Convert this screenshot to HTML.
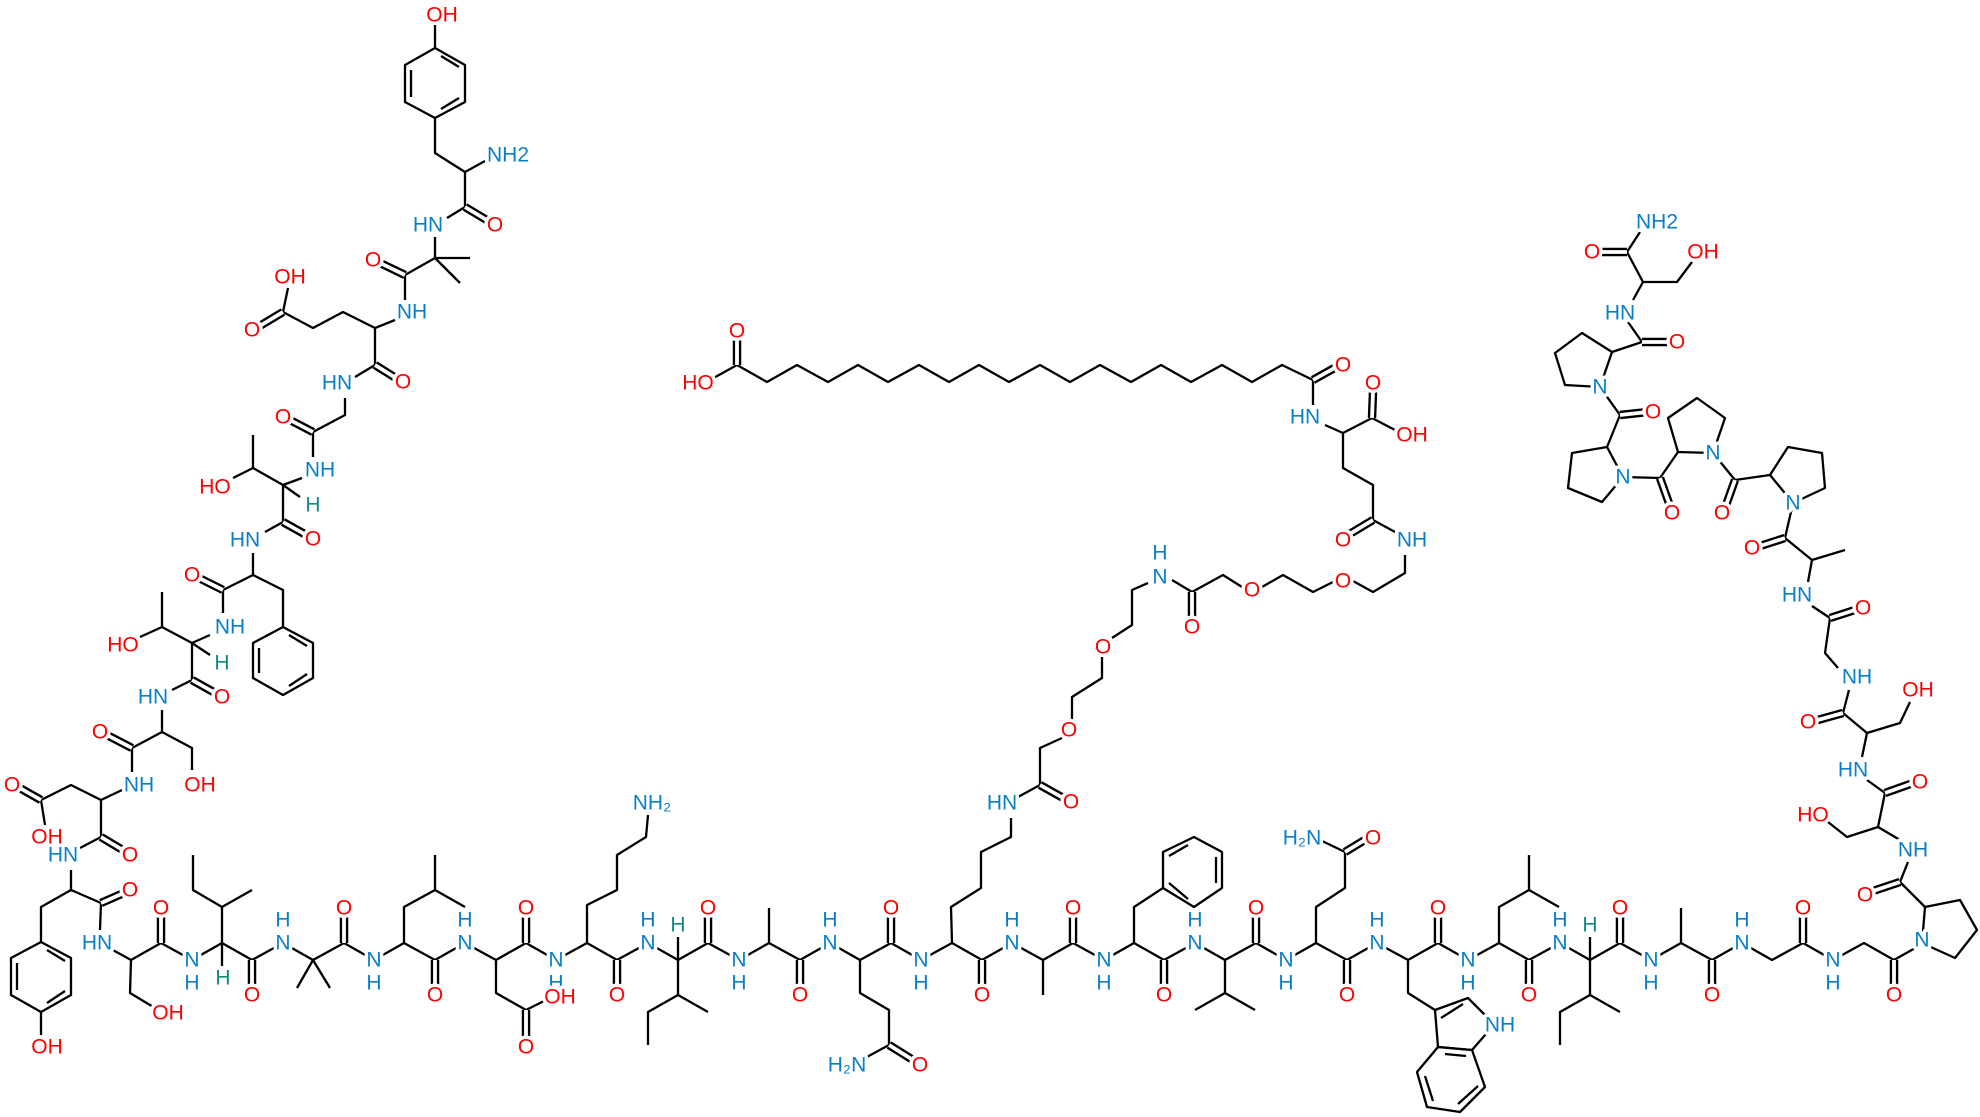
<!DOCTYPE html>
<html><head><meta charset="utf-8"><style>
html,body{margin:0;padding:0;background:#fff;}
svg{display:block;}
text{font-family:"Liberation Sans",sans-serif;font-size:21px;dominant-baseline:central;text-anchor:middle;stroke:#fff;stroke-width:7px;paint-order:stroke;stroke-linejoin:round;}
.o{fill:#f00;} .n{fill:#0a7fc8;} .h{fill:#138a80;}
</style></head><body>
<svg width="1980" height="1117" viewBox="0 0 1980 1117" xmlns="http://www.w3.org/2000/svg">
<g fill="none" stroke="#000" stroke-width="2.3" stroke-linejoin="round">
<path d="M100,943 L131,960 L161,943 L192,960 L222,943 L252,960 L283,943 L313,960 L344,943 L374,960 L404,943 L435,960 L465,943 L496,960 L526,943 L556,960 L587,943 L617,960 L648,943 L678,960 L708,943 L739,960 L769,943 L800,960 L830,943 L860,960 L891,943 L921,960 L952,943 L982,960 L1012,943 L1043,960 L1073,943 L1104,960 L1134,943 L1164,960 L1195,943 L1225,960 L1256,943 L1286,960 L1316,943 L1347,960 L1377,943 L1408,960 L1438,943 L1468,960 L1499,943 L1529,960 L1560,943 L1590,960 L1620,943 L1651,960 L1681,943 L1712,960 L1742,943 L1772,960 L1803,943 L1833,960 L1864,943 L1894,960 L1924,943"/>
<polygon points="435,48 465,65 465,102 435,118 405,102 405,65"/>
<path d="M441,56 L459,67 M459,98 L441,109 M411,70 L411,97"/>
<path d="M435,48 L435,25 M435,118 L435,153 L465,172 L485,161 M465,172 L465,207 L447,218 M435,237 L435,258 L470,258 M435,258 L460,283 M435,258 L405,275 L405,300 M395,320 L375,328 L343,312 L313,328 L283,312 L288,288 M375,328 L375,365 L355,377 M345,398 L345,415 L313,432 L313,457 M302,478 L283,485 L300,497 M283,485 L253,468 L253,435 M253,468 L233,478 M283,485 L283,522 L265,532 M253,553 L253,575 L283,590 L283,627 M253,575 L223,590 L223,613 M210,635 L192,643 L210,655 M192,643 L162,627 L162,592 M162,627 L140,637 M192,643 L192,680 L172,690 M162,710 L162,732 L192,748 L192,770 M162,732 L132,748 L132,772 M122,790 L101,800 L71,785 L41,800 L45,825 M101,800 L101,837 L80,848 M71,870 L71,890 L41,907 L41,942 M71,890 L101,903 L100,930"/>
<polygon points="283,627 313,643 313,678 283,695 253,678 253,643"/>
<path d="M289,635 L307,646 M307,674 L289,686 M259,648 L259,673"/>
<polygon points="41,942 71,958 71,995 41,1012 11,995 11,958"/>
<path d="M47,950 L65,961 M65,991 L47,1003 M17,963 L17,990 M41,1012 L41,1035"/>
<path d="M131,960 L130,993 L155,1008"/>
<path d="M222,943 L222,907 L252,890 M222,907 L193,890 L193,855 M222,943 L222,966"/>
<path d="M313,960 L297,988 M313,960 L330,988"/>
<path d="M404,943 L404,907 L435,890 L435,855 M435,890 L465,907"/>
<path d="M496,960 L496,993 L526,1010 L550,998"/>
<path d="M587,943 L587,905 L617,890 L617,855 L646,837 L648,815"/>
<path d="M678,960 L678,995 L708,1012 M678,995 L648,1012 L648,1045 M678,960 L678,937"/>
<path d="M769,943 L769,908"/>
<path d="M860,960 L860,993 L889,1010 L889,1045 L865,1058"/>
<path d="M1043,960 L1043,995"/>
<path d="M1134,943 L1134,907 L1163,888"/>
<polygon points="1163,888 1163,852 1194,837 1222,852 1222,888 1194,907"/>
<path d="M1169,856 L1188,845 M1216,857 L1216,883 M1188,899 L1169,883"/>
<path d="M1225,960 L1225,993 L1195,1010 M1225,993 L1255,1010"/>
<path d="M1316,943 L1316,907 L1345,888 L1345,852 L1320,840"/>
<path d="M1408,960 L1408,993 L1435,1010"/>
<path d="M1435,1010 L1468,998 L1488,1018 M1486,1034 L1472,1050 L1438,1047 L1435,1010 M1441,1018 L1463,1004"/>
<polygon points="1438,1047 1417,1072 1427,1107 1460,1112 1485,1087 1472,1050"/>
<path d="M1425,1076 L1433,1101 M1458,1104 L1478,1086 M1445,1054 L1466,1056"/>
<path d="M1499,943 L1499,907 L1529,890 L1529,855 M1529,890 L1559,907"/>
<path d="M1590,960 L1590,995 L1620,1012 M1590,995 L1560,1012 L1560,1045 M1590,960 L1590,937"/>
<path d="M1681,943 L1681,908"/>
<path d="M710,380 L737,365 L767,382 L797,365 L828,382 L858,365 L888,382 L919,365 L949,382 L979,365 L1009,382 L1040,365 L1070,382 L1100,365 L1131,382 L1161,365 L1191,382 L1222,365 L1252,382 L1282,365 L1313,380"/>
<path d="M1313,380 L1313,405 M1325,425 L1343,433 L1372,418 L1395,430 M1343,433 L1343,468 L1373,485 L1373,520 L1395,532 M1405,555 L1405,573 L1373,592 L1353,581 M1333,582 L1313,592 L1283,575 L1262,587 M1242,587 L1223,575 L1192,592 L1172,580 M1148,583 L1132,590 L1132,625 L1112,638 M1102,657 L1102,678 L1072,697 L1072,720 M1062,738 L1040,748 L1040,785 L1018,797 M1011,818 L1011,837 L981,852 L981,888 L951,907 L952,943"/>
<polygon points="1922,943 1925,907 1960,900 1977,930 1955,958"/>
<path d="M1925,907 L1900,882 L1908,862 M1900,840 L1878,827 L1847,837 L1828,822 M1878,827 L1885,793 L1867,780 M1862,757 L1867,733 L1900,723 L1910,702 M1867,733 L1843,713 L1849,690 M1838,668 L1825,653 L1830,618 L1812,606 M1808,582 L1812,560 L1845,550 M1812,560 L1785,538 L1793,503"/>
<polygon points="1793,503 1770,475 1788,447 1822,453 1825,488"/>
<path d="M1770,475 L1735,480 L1713,453"/>
<polygon points="1713,453 1678,452 1668,418 1697,398 1725,418"/>
<path d="M1678,452 L1660,478 L1623,477"/>
<polygon points="1623,477 1607,447 1572,453 1568,488 1602,502"/>
<path d="M1607,447 L1620,415 L1600,387"/>
<polygon points="1600,387 1612,352 1582,333 1555,353 1565,385"/>
<path d="M1612,352 L1642,342 L1628,322 M1633,300 L1643,282 L1677,282 L1692,262 M1643,282 L1627,252 L1640,232"/>
</g>
<g fill="none" stroke-linecap="butt">
<path stroke="#000" stroke-width="8.5" d="M161,943 L161,910 M252,960 L252,993 M344,943 L344,910 M435,960 L435,993 M526,943 L526,910 M617,960 L617,993 M708,943 L708,910 M800,960 L800,993 M891,943 L891,910 M982,960 L982,993 M1073,943 L1073,910 M1164,960 L1164,993 M1256,943 L1256,910 M1347,960 L1347,993 M1438,943 L1438,910 M1529,960 L1529,993 M1620,943 L1620,910 M1712,960 L1712,993 M1803,943 L1803,910 M1894,960 L1894,993 M465,207 L490,222 M405,275 L378,262 M283,312 L258,327 M375,365 L399,380 M313,432 L288,419 M283,522 L308,536 M223,590 L197,577 M192,680 L217,694 M132,748 L105,734 M41,800 L18,787 M101,837 L126,852 M101,903 L126,892 M526,1010 L526,1040 M889,1045 L913,1060 M1345,852 L1368,838 M1040,785 L1065,799 M737,365 L737,340 M1313,380 L1338,366 M1372,418 L1373,392 M1373,520 L1348,535 M1192,592 L1192,620 M1900,882 L1870,892 M1885,793 L1913,783 M1843,713 L1814,721 M1830,618 L1858,609 M1785,538 L1757,547 M1735,480 L1725,508 M1660,478 L1670,506 M1620,415 L1648,412 M1642,342 L1670,342 M1627,252 L1600,252"/>
<path stroke="#fff" stroke-width="3.8" d="M161,943 L161,910 M252,960 L252,993 M344,943 L344,910 M435,960 L435,993 M526,943 L526,910 M617,960 L617,993 M708,943 L708,910 M800,960 L800,993 M891,943 L891,910 M982,960 L982,993 M1073,943 L1073,910 M1164,960 L1164,993 M1256,943 L1256,910 M1347,960 L1347,993 M1438,943 L1438,910 M1529,960 L1529,993 M1620,943 L1620,910 M1712,960 L1712,993 M1803,943 L1803,910 M1894,960 L1894,993 M465,207 L490,222 M405,275 L378,262 M283,312 L258,327 M375,365 L399,380 M313,432 L288,419 M283,522 L308,536 M223,590 L197,577 M192,680 L217,694 M132,748 L105,734 M41,800 L18,787 M101,837 L126,852 M101,903 L126,892 M526,1010 L526,1040 M889,1045 L913,1060 M1345,852 L1368,838 M1040,785 L1065,799 M737,365 L737,340 M1313,380 L1338,366 M1372,418 L1373,392 M1373,520 L1348,535 M1192,592 L1192,620 M1900,882 L1870,892 M1885,793 L1913,783 M1843,713 L1814,721 M1830,618 L1858,609 M1785,538 L1757,547 M1735,480 L1725,508 M1660,478 L1670,506 M1620,415 L1648,412 M1642,342 L1670,342 M1627,252 L1600,252"/>
</g>
<text class="o" x="161" y="908">O</text><text class="o" x="252" y="995">O</text><text class="o" x="344" y="908">O</text><text class="o" x="435" y="995">O</text><text class="o" x="526" y="908">O</text><text class="o" x="617" y="995">O</text><text class="o" x="708" y="908">O</text><text class="o" x="800" y="995">O</text><text class="o" x="891" y="908">O</text><text class="o" x="982" y="995">O</text><text class="o" x="1073" y="908">O</text><text class="o" x="1164" y="995">O</text><text class="o" x="1256" y="908">O</text><text class="o" x="1347" y="995">O</text><text class="o" x="1438" y="908">O</text><text class="o" x="1529" y="995">O</text><text class="o" x="1620" y="908">O</text><text class="o" x="1712" y="995">O</text><text class="o" x="1803" y="908">O</text><text class="o" x="1894" y="995">O</text>
<text class="n" x="97" y="943">HN</text>
<text class="n" x="192" y="960">N</text><text class="n" x="192" y="983">H</text>
<text class="n" x="283" y="943">N</text><text class="n" x="283" y="920">H</text>
<text class="n" x="374" y="960">N</text><text class="n" x="374" y="983">H</text>
<text class="n" x="465" y="943">N</text><text class="n" x="465" y="920">H</text>
<text class="n" x="556" y="960">N</text><text class="n" x="556" y="983">H</text>
<text class="n" x="648" y="943">N</text><text class="n" x="648" y="920">H</text>
<text class="n" x="739" y="960">N</text><text class="n" x="739" y="983">H</text>
<text class="n" x="830" y="943">N</text><text class="n" x="830" y="920">H</text>
<text class="n" x="921" y="960">N</text><text class="n" x="921" y="983">H</text>
<text class="n" x="1012" y="943">N</text><text class="n" x="1012" y="920">H</text>
<text class="n" x="1104" y="960">N</text><text class="n" x="1104" y="983">H</text>
<text class="n" x="1195" y="943">N</text><text class="n" x="1195" y="920">H</text>
<text class="n" x="1286" y="960">N</text><text class="n" x="1286" y="983">H</text>
<text class="n" x="1377" y="943">N</text><text class="n" x="1377" y="920">H</text>
<text class="n" x="1468" y="960">N</text><text class="n" x="1468" y="983">H</text>
<text class="n" x="1560" y="943">N</text><text class="n" x="1560" y="920">H</text>
<text class="n" x="1651" y="960">N</text><text class="n" x="1651" y="983">H</text>
<text class="n" x="1742" y="943">N</text><text class="n" x="1742" y="920">H</text>
<text class="n" x="1833" y="960">N</text><text class="n" x="1833" y="983">H</text>
<text class="n" x="1922" y="940">N</text>
<text class="o" x="442" y="15">OH</text>
<text class="n" x="508" y="155">NH2</text>
<text class="o" x="495" y="225">O</text><text class="n" x="428" y="225">HN</text>
<text class="o" x="373" y="260">O</text><text class="n" x="412" y="312">NH</text>
<text class="o" x="290" y="277">OH</text><text class="o" x="252" y="330">O</text>
<text class="o" x="403" y="382">O</text><text class="n" x="337" y="383">HN</text>
<text class="o" x="283" y="417">O</text><text class="n" x="320" y="470">NH</text>
<text class="h" x="313" y="505">H</text><text class="o" x="215" y="487">HO</text>
<text class="o" x="313" y="539">O</text><text class="n" x="245" y="540">HN</text>
<text class="o" x="192" y="575">O</text><text class="n" x="230" y="627">NH</text>
<text class="o" x="123" y="645">HO</text><text class="h" x="222" y="663">H</text>
<text class="o" x="222" y="697">O</text><text class="n" x="153" y="697">HN</text>
<text class="o" x="100" y="732">O</text><text class="o" x="200" y="785">OH</text>
<text class="n" x="139" y="785">NH</text><text class="o" x="12" y="785">O</text>
<text class="o" x="47" y="837">OH</text><text class="n" x="63" y="855">HN</text>
<text class="o" x="130" y="855">O</text><text class="o" x="130" y="890">O</text>
<text class="o" x="47" y="1047">OH</text><text class="o" x="168" y="1013">OH</text>
<text class="h" x="223" y="978">H</text>
<text class="o" x="560" y="997">OH</text><text class="o" x="526" y="1047">O</text>
<text class="n" x="652" y="803">NH₂</text>
<text class="h" x="678" y="925">H</text>
<text class="n" x="847" y="1065">H₂N</text><text class="o" x="920" y="1065">O</text>
<text class="n" x="1002" y="803">HN</text><text class="o" x="1071" y="802">O</text>
<text class="n" x="1302" y="838">H₂N</text><text class="o" x="1373" y="838">O</text>
<text class="n" x="1500" y="1025">NH</text>
<text class="h" x="1590" y="925">H</text>
<text class="o" x="698" y="383">HO</text><text class="o" x="737" y="331">O</text>
<text class="o" x="1343" y="365">O</text><text class="n" x="1305" y="417">HN</text>
<text class="o" x="1373" y="383">O</text><text class="o" x="1412" y="435">OH</text>
<text class="o" x="1343" y="540">O</text><text class="n" x="1412" y="540">NH</text>
<text fill="#f00" x="1343" y="581">O</text><text fill="#f00" x="1252" y="590">O</text>
<text class="o" x="1192" y="627">O</text>
<text class="n" x="1160" y="577">N</text><text class="n" x="1160" y="553">H</text>
<text fill="#f00" x="1103" y="647">O</text><text fill="#f00" x="1069" y="730">O</text>
<text class="o" x="1865" y="895">O</text><text class="n" x="1913" y="850">NH</text>
<text class="o" x="1813" y="815">HO</text><text class="o" x="1920" y="782">O</text>
<text class="n" x="1853" y="770">HN</text><text class="o" x="1918" y="690">OH</text>
<text class="o" x="1808" y="722">O</text><text class="n" x="1857" y="677">NH</text>
<text class="o" x="1863" y="608">O</text><text class="n" x="1797" y="595">HN</text>
<text class="o" x="1752" y="548">O</text><text class="n" x="1793" y="503">N</text>
<text class="o" x="1722" y="513">O</text><text class="n" x="1713" y="453">N</text>
<text class="o" x="1672" y="513">O</text><text class="n" x="1623" y="477">N</text>
<text class="o" x="1653" y="412">O</text><text class="n" x="1600" y="387">N</text>
<text class="o" x="1677" y="342">O</text><text class="n" x="1620" y="313">HN</text>
<text class="o" x="1703" y="252">OH</text><text class="o" x="1592" y="252">O</text>
<text class="n" x="1657" y="222">NH2</text>
</svg>
</body></html>
